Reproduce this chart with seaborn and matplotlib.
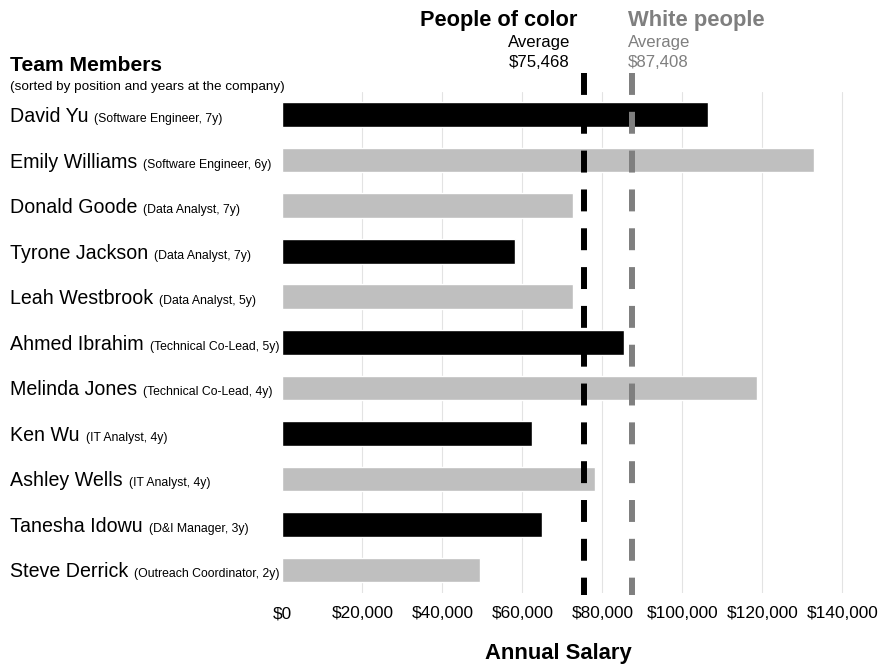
import matplotlib
matplotlib.use("Agg")
import matplotlib.pyplot as plt
import matplotlib.transforms as mtransforms
import numpy as np
import pandas as pd
import seaborn as sns

# ---- data -------------------------------------------------------------
names = [
    "David Yu", "Emily Williams", "Donald Goode", "Tyrone Jackson",
    "Leah Westbrook", "Ahmed Ibrahim", "Melinda Jones", "Ken Wu",
    "Ashley Wells", "Tanesha Idowu", "Steve Derrick",
]
roles = [
    "Software Engineer, 7y", "Software Engineer, 6y", "Data Analyst, 7y",
    "Data Analyst, 7y", "Data Analyst, 5y", "Technical Co-Lead, 5y",
    "Technical Co-Lead, 4y", "IT Analyst, 4y", "IT Analyst, 4y",
    "D&I Manager, 3y", "Outreach Coordinator, 2y",
]
groups = [
    "People of color", "White people", "White people", "People of color",
    "White people", "People of color", "White people", "People of color",
    "White people", "People of color", "White people",
]
salaries = [106300, 133000, 72600, 58200, 72600, 85300,
            118600, 62500, 78100, 65000, 49400]

group_names = ["People of color", "White people"]
group_averages = [75468, 87408]

x_ticks = [0, 20000, 40000, 60000, 80000, 100000, 120000, 140000]

# ---- styling ----------------------------------------------------------
sns.set_style("white")
plt.rcParams["font.family"] = ["Liberation Sans", "DejaVu Sans"]
plt.rcParams["text.color"] = "black"
plt.rcParams["xtick.color"] = "black"

W, H = 881, 666
BLACK = "#000000"
LIGHT = "#bfbfbf"
MID = "#7f7f7f"
group_colors = {"People of color": BLACK, "White people": LIGHT}
line_colors = {"People of color": BLACK, "White people": MID}


def fx(px):
    return px / W


def fy(py):
    return 1 - py / H


df = pd.DataFrame({"name": names, "role": roles, "group": groups,
                   "salary": salaries})

fig = plt.figure(figsize=(W / 100, H / 100), dpi=100)
ax = fig.add_axes([fx(282.3), fy(592.7), 584 / W, 500.8 / H])

sns.barplot(data=df, x="salary", y="name", hue="group", order=names,
            palette=group_colors, dodge=False, width=0.54, saturation=1,
            orient="h", legend=False, errorbar=None, ax=ax, zorder=2)

ax.set_xlim(0, 146000)
ax.set_ylim(len(names) - 0.5, -0.5)
ax.set_xticks(x_ticks)
ax.set_xticklabels([f"${v:,.0f}" for v in x_ticks])
ax.tick_params(axis="x", length=0, pad=9.8, labelsize=12.4,
               colors=BLACK, labelcolor=BLACK)
ax.set_yticks([])
ax.set_xlabel("")
ax.set_ylabel("")
for s in ax.spines.values():
    s.set_visible(False)

ax.xaxis.grid(True, color="#e3e3e3", linewidth=0.8, zorder=0)
ax.set_axisbelow(True)
ax.xaxis.get_gridlines()[0].set_visible(False)

# dashed average lines, running from above the plot down past the last bar
lw_pt = 4.3
for g, v in zip(group_names, group_averages):
    ax.plot([v, v], [1.0377, -0.005], transform=ax.get_xaxis_transform(),
            clip_on=False, color=line_colors[g], linewidth=lw_pt,
            linestyle=(0, (3.67, 2.83)), solid_capstyle="butt", zorder=5)

# ---- row labels -------------------------------------------------------
row_trans = mtransforms.blended_transform_factory(fig.transFigure, ax.transData)
baseline_shift = -7.5
name_texts = []
for i, n in enumerate(names):
    t = ax.annotate(n, xy=(fx(10), i), xycoords=row_trans,
                    xytext=(0, baseline_shift), textcoords="offset pixels",
                    ha="left", va="baseline", fontsize=14.1, color=BLACK,
                    annotation_clip=False)
    name_texts.append(t)

fig.canvas.draw()
renderer = fig.canvas.get_renderer()
for i, (t, r) in enumerate(zip(name_texts, roles)):
    bb = t.get_window_extent(renderer)
    ax.annotate(f"({r})", xy=(fx(10), i), xycoords=row_trans,
                xytext=(bb.x1 - 10 + 6, baseline_shift),
                textcoords="offset pixels",
                ha="left", va="baseline", fontsize=8.8, color=BLACK,
                annotation_clip=False)

# ---- headers ----------------------------------------------------------
fig.text(fx(10), fy(70.7), "Team Members", fontsize=15.2,
         fontweight="bold", ha="left", va="baseline", color=BLACK)
fig.text(fx(10), fy(90), "(sorted by position and years at the company)",
         fontsize=9.7, ha="left", va="baseline", color=BLACK)

fig.text(fx(577.3), fy(26), group_names[0], fontsize=15.7,
         fontweight="bold", ha="right", va="baseline", color=BLACK)
fig.text(fx(627.7), fy(26), group_names[1], fontsize=15.8,
         fontweight="bold", ha="left", va="baseline", color=MID)

fig.text(fx(508.3), fy(46.7), "Average", fontsize=12.1, ha="left",
         va="baseline", color=BLACK)
fig.text(fx(508.3), fy(66.7), f"${group_averages[0]:,.0f}", fontsize=12.1,
         ha="left", va="baseline", color=BLACK)
fig.text(fx(627.7), fy(46.7), "Average", fontsize=12.1, ha="left",
         va="baseline", color=MID)
fig.text(fx(627.7), fy(66.7), f"${group_averages[1]:,.0f}", fontsize=12.1,
         ha="left", va="baseline", color=MID)

fig.text(fx(558), fy(659.3), "Annual Salary", fontsize=15.8,
         fontweight="bold", ha="center", va="baseline", color=BLACK)

fig.savefig("out.png", dpi=100)
